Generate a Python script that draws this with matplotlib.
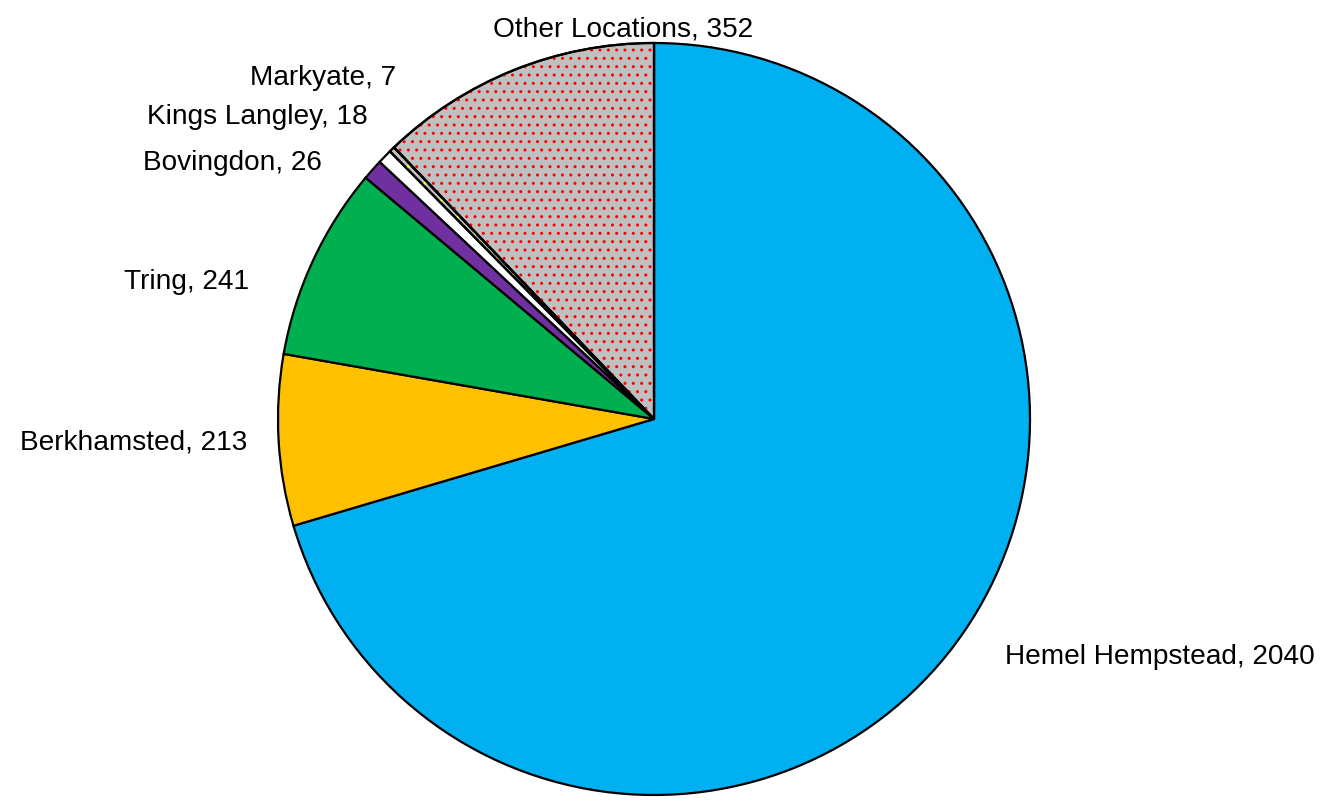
import matplotlib
matplotlib.use("Agg")
import matplotlib.pyplot as plt
from matplotlib.patches import Wedge

labels = ["Hemel Hempstead", "Berkhamsted", "Tring", "Bovingdon",
          "Kings Langley", "Markyate", "Other Locations"]
values = [2040, 213, 241, 26, 18, 7, 352]
colors = ["#00B0F0", "#FFC000", "#00B050", "#7030A0", "#FFFFFF", "#C0C0C0", "#C0C0C0"]
dot_colors = [None, None, None, None, None, "#FFFF00", "#FF0000"]

# label layout (pixel coords, top-left origin): x, y, ha
label_pos = [(1005, 657, "left"), (247, 443, "right"), (249, 282, "right"),
             (322, 163, "right"), (368, 117, "right"), (396, 78, "right"),
             (623, 30, "center")]

W, H = 1326, 803
plt.rcParams['font.family'] = ['Liberation Sans', 'DejaVu Sans']
plt.rcParams['hatch.linewidth'] = 1.0
fig = plt.figure(figsize=(W / 100, H / 100), dpi=100)
ax = fig.add_axes([0, 0, 1, 1])

cx, cy, r = 654, H - 420, 376
wedges, _ = ax.pie(values, colors=colors, startangle=90, counterclock=False,
                   center=(cx, cy), radius=r, frame=True,
                   wedgeprops=dict(edgecolor='black', linewidth=1.6))
ax.set_xlim(0, W)
ax.set_ylim(0, H)
ax.set_aspect('equal')
ax.axis('off')

for w, dc in zip(wedges, dot_colors):
    if dc:
        hw = Wedge(w.center, w.r, w.theta1, w.theta2, facecolor='none',
                   edgecolor=dc, linewidth=0, hatch='..', zorder=w.get_zorder() + 0.1)
        ax.add_patch(hw)
        ol = Wedge(w.center, w.r, w.theta1, w.theta2, facecolor='none',
                   edgecolor='black', linewidth=1.6, zorder=w.get_zorder() + 0.2)
        ax.add_patch(ol)

for lab, v, (x, y, ha) in zip(labels, values, label_pos):
    ax.text(x, H - y, f"{lab}, {v}", ha=ha, va='center', fontsize=20.2, color='black')

fig.savefig("out.png", dpi=100)
